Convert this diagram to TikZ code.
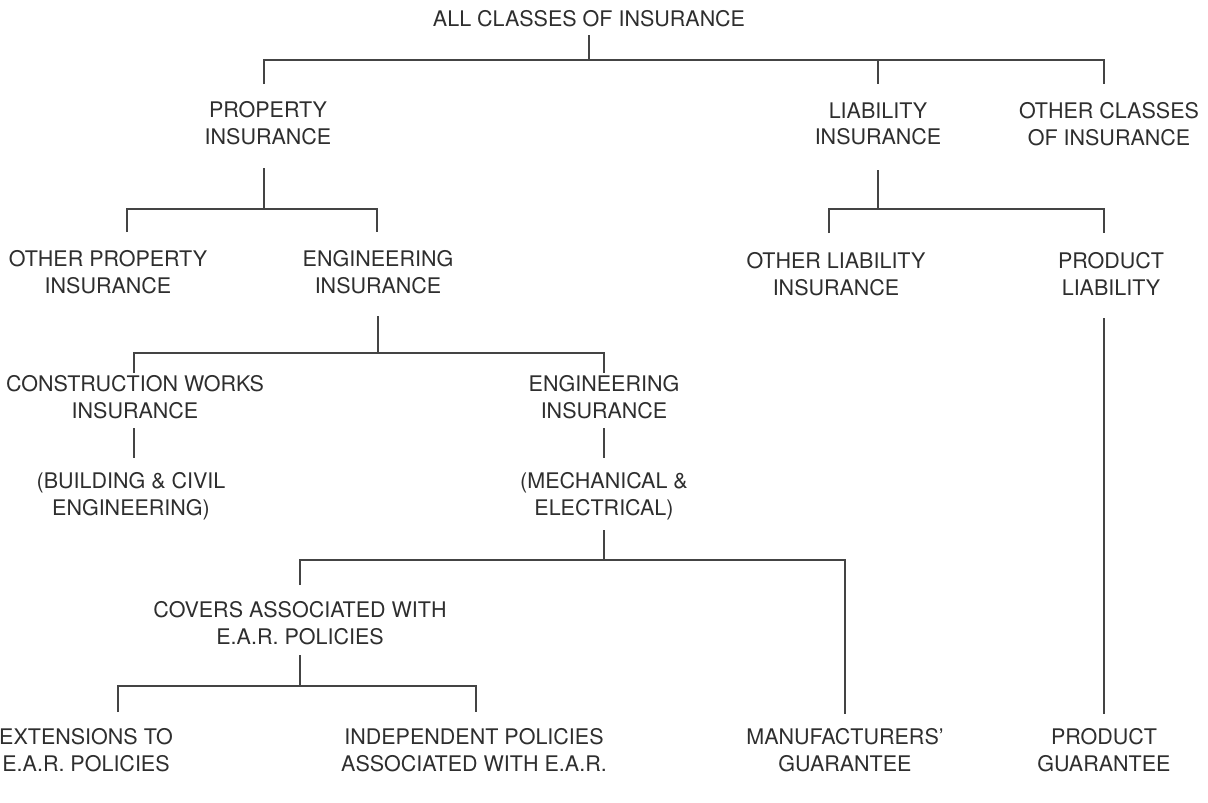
\documentclass[tikz,border=0pt]{standalone}
\usepackage{fontspec}
\setmainfont{TeX Gyre Heros}
\definecolor{ink}{HTML}{2E2E2E}
\definecolor{rule}{HTML}{444444}
\begin{document}
\begin{tikzpicture}[x=1pt,y=-1pt,
  lbl/.style={align=center, text=ink, font=\fontsize{21.5}{26.5}\selectfont, inner sep=0pt},
  link/.style={draw=rule, line width=1.2pt}]
\useasboundingbox (0,0) rectangle (1208,803);
% text nodes
\node[lbl] (all) at (589,19) {ALL CLASSES OF INSURANCE};
\node[lbl] (prop) at (268,123) {PROPERTY\\INSURANCE};
\node[lbl] (liab) at (878,124) {LIABILITY\\INSURANCE};
\node[lbl] (othcl) at (1109,124) {OTHER CLASSES\\OF INSURANCE};
\node[lbl] (othprop) at (108,272) {OTHER PROPERTY\\INSURANCE};
\node[lbl] (eng1) at (378,272) {ENGINEERING\\INSURANCE};
\node[lbl] (othliab) at (836,274) {OTHER LIABILITY\\INSURANCE};
\node[lbl] (prodliab) at (1111,274) {PRODUCT\\LIABILITY};
\node[lbl] (constr) at (135,397) {CONSTRUCTION WORKS\\INSURANCE};
\node[lbl] (eng2) at (604,397) {ENGINEERING\\INSURANCE};
\node[lbl] (build) at (131,496) {(BUILDING \& CIVIL\\ENGINEERING)};
\node[lbl] (mech) at (604,496) {(MECHANICAL \&\\ELECTRICAL)};
\node[lbl] (covers) at (300,623) {COVERS ASSOCIATED WITH\\E.A.R. POLICIES};
\node[lbl] (ext) at (86,750) {EXTENSIONS TO\\E.A.R. POLICIES};
\node[lbl] (indep) at (474,750) {INDEPENDENT POLICIES\\ASSOCIATED WITH E.A.R.};
\node[lbl] (manuf) at (845,750) {MANUFACTURERS'\\GUARANTEE};
\node[lbl] (prodg) at (1104,750) {PRODUCT\\GUARANTEE};
% junction coordinates
\coordinate (aT) at (589,35);  \coordinate (aB) at (589,60);
\coordinate (aL) at (264,60);  \coordinate (aR) at (1104,60);
\coordinate (pD) at (264,84);  \coordinate (lU) at (878,60); \coordinate (lD) at (878,84);
\coordinate (oD) at (1104,84);
\coordinate (pT) at (264,168); \coordinate (pB) at (264,209);
\coordinate (pL) at (127,209); \coordinate (pR) at (377,209);
\coordinate (pLd) at (127,232); \coordinate (pRd) at (377,232);
\coordinate (lT) at (878,170); \coordinate (lB) at (878,209);
\coordinate (lL) at (829,209); \coordinate (lR) at (1104,209);
\coordinate (lLd) at (829,233); \coordinate (lRd) at (1104,233);
\coordinate (eT) at (378,316); \coordinate (eB) at (378,353);
\coordinate (eL) at (134,353); \coordinate (eR) at (604,353);
\coordinate (eLd) at (134,373); \coordinate (eRd) at (604,373);
\coordinate (cT) at (134,428); \coordinate (cB) at (134,458);
\coordinate (gT) at (604,428); \coordinate (gB) at (604,458);
\coordinate (mT) at (604,530); \coordinate (mB) at (604,560);
\coordinate (mL) at (300,560); \coordinate (mR) at (845,560);
\coordinate (mLd) at (300,585); \coordinate (mRd) at (845,714);
\coordinate (vT) at (300,655); \coordinate (vB) at (300,686);
\coordinate (vL) at (118,686); \coordinate (vR) at (476,686);
\coordinate (vLd) at (118,712); \coordinate (vRd) at (476,712);
\coordinate (qT) at (1104,318); \coordinate (qB) at (1104,714);
% connectors
\draw[link] (aT) -- (aB);
\draw[link] (pD) -- (aL) -- (aR) -- (oD);
\draw[link] (lU) -- (lD);
\draw[link] (pT) -- (pB);
\draw[link] (pLd) -- (pL) -- (pR) -- (pRd);
\draw[link] (lT) -- (lB);
\draw[link] (lLd) -- (lL) -- (lR) -- (lRd);
\draw[link] (eT) -- (eB);
\draw[link] (eLd) -- (eL) -- (eR) -- (eRd);
\draw[link] (cT) -- (cB);
\draw[link] (gT) -- (gB);
\draw[link] (mT) -- (mB);
\draw[link] (mLd) -- (mL) -- (mR) -- (mRd);
\draw[link] (vT) -- (vB);
\draw[link] (vLd) -- (vL) -- (vR) -- (vRd);
\draw[link] (qT) -- (qB);
\end{tikzpicture}
\end{document}
